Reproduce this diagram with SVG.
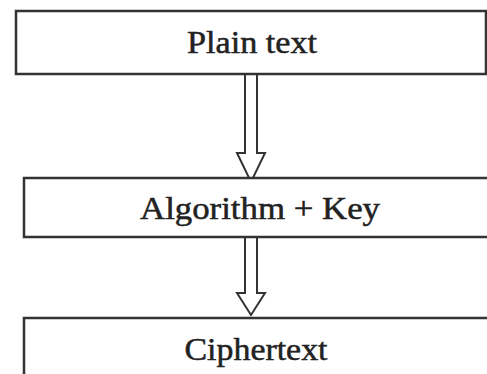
<svg xmlns="http://www.w3.org/2000/svg" width="487" height="374" viewBox="0 0 487 374">
<style>
.box{fill:#fff;stroke:#333;stroke-width:2.5}
.lbl{font-family:"Liberation Serif","Times New Roman",serif;font-size:31px;fill:#222;stroke:#222;stroke-width:0.5;text-anchor:middle}
.arr{fill:#fff;stroke:#333;stroke-width:2;stroke-linejoin:miter}
</style>
<rect width="487" height="374" fill="#fff"/>
<g id="connectors">
<path class="arr" d="M245,74 L257,74 L257,153 L265,153 L251,182 L237,153 L245,153 Z"/>
<path class="arr" d="M245,237 L257,237 L257,293 L265,293 L251,315 L237,293 L245,293 Z"/>
</g>
<g id="plain">
<rect class="box" x="16" y="11" width="470" height="63"/>
<text class="lbl" x="252" y="53" textLength="130" lengthAdjust="spacingAndGlyphs">Plain text</text>
</g>
<g id="algo">
<rect class="box" x="24" y="178" width="470" height="59"/>
<text class="lbl" x="260" y="219" textLength="240" lengthAdjust="spacingAndGlyphs">Algorithm + Key</text>
</g>
<g id="cipher">
<rect class="box" x="24" y="318" width="470" height="70"/>
<text class="lbl" x="256" y="360" textLength="143" lengthAdjust="spacingAndGlyphs">Ciphertext</text>
</g>
</svg>
